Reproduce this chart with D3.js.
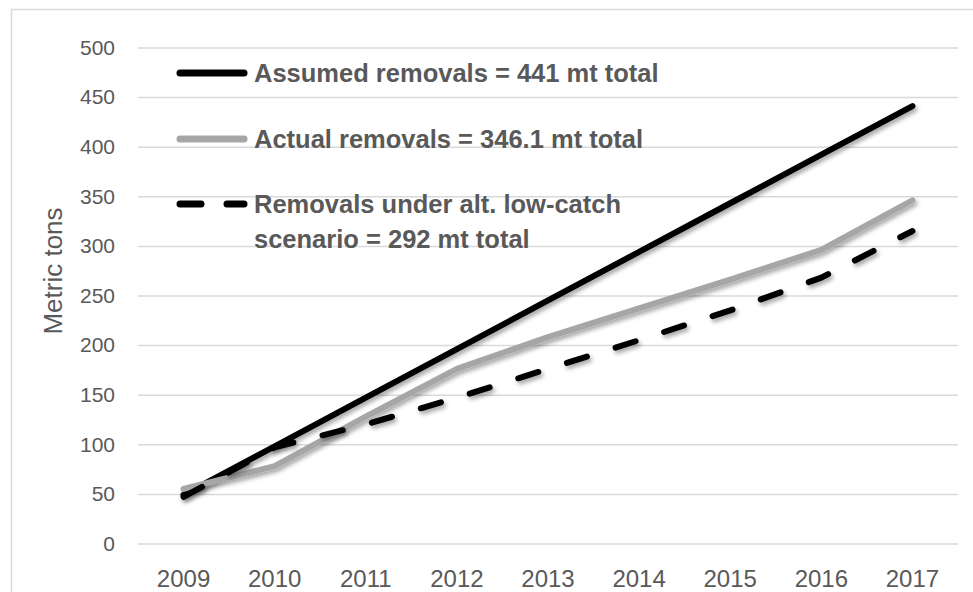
<!DOCTYPE html>
<html>
<head>
<meta charset="utf-8">
<script src="https://cdn.jsdelivr.net/npm/d3@7/dist/d3.min.js"></script>
<style>
  body { margin: 0; background: #fff; }
  svg { display: block; font-family: "Liberation Sans", Arial, sans-serif; }
</style>
</head>
<body>
<div id="main"></div>
<script>
const years = ["2009", "2010", "2011", "2012", "2013", "2014", "2015", "2016", "2017"];
const assumed = [49, 98, 147, 196, 245, 294, 343, 392, 441];
const actual = [55, 78, 128, 176, 208, 237, 266, 296, 346];
const lowCatch = [47, 97, 120, 147, 176, 205, 235, 268, 315];
const yTicks = [0, 50, 100, 150, 200, 250, 300, 350, 400, 450, 500];

const seriesNames = [
    ["Assumed removals = 441 mt total"],
    ["Actual removals = 346.1 mt total"],
    ["Removals under alt. low-catch", "scenario = 292 mt total"]
];

const ctx = {
    W: 973,
    H: 592,
    left: 138,
    right: 958,
    top: 47.5,
    bottom: 543.5,
    textColor: "#595959",
    gridColor: "#d9d9d9"
};

function createViz() {
    let svg = d3.select("#main").append("svg")
        .attr("width", ctx.W)
        .attr("height", ctx.H);

    // drop shadow like the office chart
    let defs = svg.append("defs");
    defs.append("filter")
        .attr("id", "shadow")
        .attr("x", "-10%").attr("y", "-10%")
        .attr("width", "120%").attr("height", "120%")
        .append("feDropShadow")
        .attr("dx", 2).attr("dy", 3)
        .attr("stdDeviation", 2)
        .attr("flood-color", "#000")
        .attr("flood-opacity", 0.35);

    // chart frame
    svg.append("rect")
        .attr("x", 11.5).attr("y", 9.5)
        .attr("width", 1000).attr("height", 1000)
        .style("fill", "none")
        .style("stroke", ctx.gridColor)
        .style("stroke-width", 1.5);

    let x = d3.scalePoint()
        .domain(years)
        .range([ctx.left, ctx.right])
        .padding(0.5);

    let y = d3.scaleLinear()
        .domain([0, 500])
        .range([ctx.bottom, ctx.top]);

    // grid + y labels
    let yAxis = svg.append("g")
        .attr("transform", `translate(${ctx.left},0)`)
        .call(d3.axisLeft(y)
            .tickValues(yTicks)
            .tickSize(-(ctx.right - ctx.left))
            .tickPadding(23));
    yAxis.select(".domain").remove();
    yAxis.selectAll("line")
        .style("stroke", ctx.gridColor)
        .style("stroke-width", 1.5);
    yAxis.selectAll("text")
        .style("font-size", "21px")
        .style("fill", ctx.textColor)
        .style("font-family", "Liberation Sans, Arial, sans-serif");

    // x labels
    svg.append("g")
        .selectAll("text")
        .data(years)
        .enter()
        .append("text")
        .attr("x", d => x(d))
        .attr("y", 587)
        .attr("text-anchor", "middle")
        .style("font-size", "24px")
        .style("fill", ctx.textColor)
        .text(d => d);

    // y title
    svg.append("text")
        .attr("transform", "translate(62,271) rotate(-90)")
        .attr("text-anchor", "middle")
        .style("font-size", "26px")
        .style("fill", ctx.textColor)
        .text("Metric tons");

    let line = d3.line()
        .x((d, i) => x(years[i]))
        .y(d => y(d));

    const series = [
        { values: assumed, color: "#000000", dash: null },
        { values: actual, color: "#a6a6a6", dash: null },
        { values: lowCatch, color: "#000000", dash: "21,30" }
    ];

    svg.append("g")
        .selectAll("path.series")
        .data(series)
        .enter()
        .append("path")
        .attr("class", "series")
        .attr("d", d => line(d.values))
        .attr("filter", "url(#shadow)")
        .style("fill", "none")
        .style("stroke", d => d.color)
        .style("stroke-width", 6)
        .style("stroke-linecap", "round")
        .style("stroke-linejoin", "round")
        .style("stroke-dasharray", d => d.dash);

    // legend
    const legendY = [73, 139, 204];
    let legend = svg.append("g")
        .selectAll("g.legend")
        .data(series)
        .enter()
        .append("g")
        .attr("class", "legend")
        .attr("transform", (d, i) => `translate(0,${legendY[i]})`);

    legend.append("line")
        .attr("x1", 180).attr("x2", 244)
        .attr("y1", 0).attr("y2", 0)
        .style("stroke", d => d.color)
        .style("stroke-width", 7)
        .style("stroke-linecap", "round")
        .style("stroke-dasharray", d => d.dash ? "21,26" : null);

    legend.append("text")
        .attr("x", 254)
        .attr("y", 9)
        .style("font-size", "25.5px")
        .style("font-weight", "bold")
        .style("fill", ctx.textColor)
        .selectAll("tspan")
        .data((d, i) => seriesNames[i])
        .enter()
        .append("tspan")
        .attr("x", 254)
        .attr("dy", (d, j) => j === 0 ? 0 : 35)
        .text(d => d);
}

createViz();
</script>
</body>
</html>
